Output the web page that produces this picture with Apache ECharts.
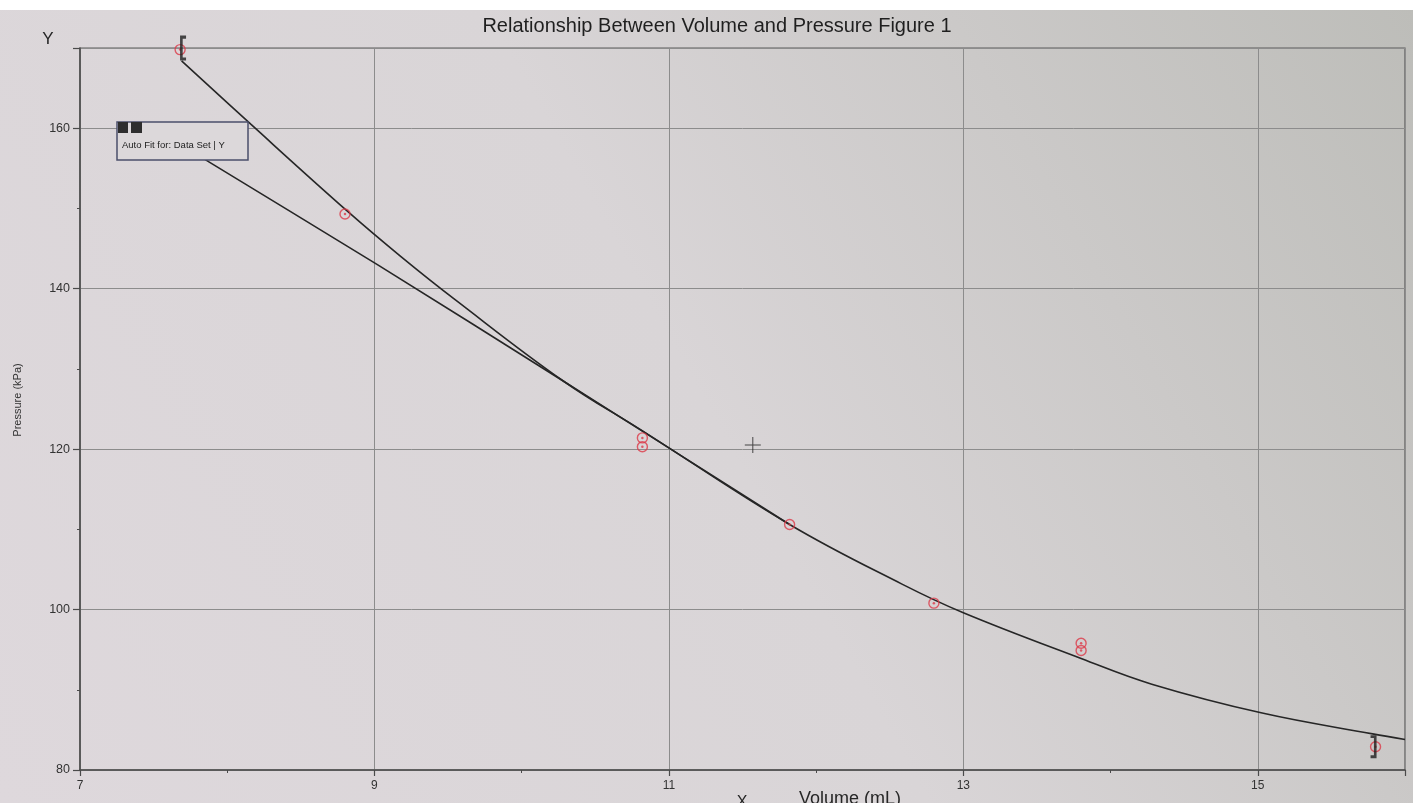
<!DOCTYPE html>
<html><head><meta charset="utf-8">
<script src="https://cdn.jsdelivr.net/npm/echarts@6/dist/echarts.min.js"></script>
<style>html,body{margin:0;padding:0;background:#fff}#c{width:1413px;height:803px}</style>
</head><body><div id="c"></div>
<script>
// Measured data (Volume mL, Pressure kPa)
const volume   = [7.68, 8.80, 10.82, 10.82, 11.82, 12.80, 13.80, 13.80, 15.80];
const pressure = [169.8, 149.3, 121.4, 120.3, 110.6, 100.8, 95.8, 94.9, 82.9];

// Auto-fit curve
const fitAVolume   = [7.69, 8.16, 8.82, 9.18, 9.55, 10.29, 10.81, 11.82, 12.58, 13.00, 13.80, 14.28, 15.03, 15.78, 16.00];
const fitAPressure = [168.4, 160.5, 149.6, 144.0, 138.6, 128.4, 122.4, 110.6, 103.2, 99.6, 93.9, 90.7, 87.1, 84.5, 83.8];

// Second fit line
const fitBVolume   = [7.75, 9.02, 10.29, 11.82];
const fitBPressure = [157.2, 143.0, 128.4, 110.6];

// Range brackets and cursor
const bracketStart = [7.70, 170];
const bracketEnd   = [15.80, 82.9];
const cursorPoint  = [11.57, 120.5];

const xTickLabels = ['7', '9', '11', '13', '15'];
const yTickLabels = ['80', '100', '120', '140', '160'];

const zip = (a, b) => a.map((v, i) => [v, b[i]]);
const FONT = '"Liberation Sans", Arial, sans-serif';
const RED = '#dc3a48';
const INK = '#262626';

const chart = echarts.init(document.getElementById('c'), null, {renderer: 'canvas'});
chart.setOption({
  backgroundColor: '#ffffff',
  animation: false,
  graphic: [
    {type: 'rect', z: -10, silent: true, shape: {x: 0, y: 10, width: 1413, height: 793},
     style: {fill: new echarts.graphic.LinearGradient(0, 1, 1, 0, [
       {offset: 0, color: '#ded8dc'}, {offset: 0.5, color: '#d9d5d7'}, {offset: 1, color: '#bdbdb9'}])}},
    {type: 'text', x: 717, y: 26, z: 10, style: {text: 'Relationship Between Volume and Pressure Figure 1',
      font: '20px ' + FONT, fill: '#1f1f1f', textAlign: 'center', textVerticalAlign: 'middle'}},
    {type: 'text', x: 48, y: 39, z: 10, style: {text: 'Y', font: '17px ' + FONT, fill: INK, textAlign: 'center', textVerticalAlign: 'middle'}},
    {type: 'text', x: 18, y: 400, rotation: Math.PI / 2, z: 10, style: {text: 'Pressure (kPa)', font: '11px ' + FONT, fill: '#333', textAlign: 'center', textVerticalAlign: 'middle'}},
    {type: 'text', x: 742, y: 803, z: 10, style: {text: 'X', font: '16px ' + FONT, fill: INK, textAlign: 'center', textVerticalAlign: 'middle'}},
    {type: 'text', x: 850, y: 799, z: 10, style: {text: 'Volume (mL)', font: '18px ' + FONT, fill: INK, textAlign: 'center', textVerticalAlign: 'middle'}},
    // Auto Fit box
    {type: 'rect', z: 20, shape: {x: 117, y: 122, width: 131, height: 38},
     style: {fill: '#dcd8da', stroke: '#4b4f6b', lineWidth: 1.5}},
    {type: 'rect', z: 21, shape: {x: 118, y: 122, width: 10, height: 11}, style: {fill: '#2e2e2e'}},
    {type: 'rect', z: 21, shape: {x: 131, y: 122, width: 11, height: 11}, style: {fill: '#2e2e2e'}},
    {type: 'text', x: 122, y: 145, z: 21, style: {text: 'Auto Fit for: Data Set | Y', font: '9.5px ' + FONT, fill: '#222', textVerticalAlign: 'middle'}}
  ],
  grid: {left: 80, right: 8, top: 48, bottom: 33, show: true, borderColor: '#5a5a5a', borderWidth: 1.2, backgroundColor: 'transparent'},
  xAxis: {
    type: 'value', min: 7, max: 16, interval: 2,
    axisLine: {lineStyle: {color: '#4a4a4a', width: 1.5}},
    axisTick: {length: 6, lineStyle: {color: '#4a4a4a', width: 1.2}},
    minorTick: {show: true, splitNumber: 2, length: 3, lineStyle: {color: '#4a4a4a'}},
    splitLine: {show: true, lineStyle: {color: '#8c8c8c', width: 1}},
    axisLabel: {fontFamily: FONT, fontSize: 12, color: '#333', margin: 10, showMaxLabel: false,
      formatter: v => xTickLabels.includes(String(v)) ? String(v) : ''}
  },
  yAxis: {
    type: 'value', min: 80, max: 170, interval: 20,
    axisLine: {show: true, lineStyle: {color: '#4a4a4a', width: 1.5}},
    axisTick: {show: true, length: 7, lineStyle: {color: '#4a4a4a', width: 1.2}},
    minorTick: {show: true, splitNumber: 2, length: 3, lineStyle: {color: '#4a4a4a'}},
    splitLine: {show: true, lineStyle: {color: '#8c8c8c', width: 1}},
    axisLabel: {fontFamily: FONT, fontSize: 12.5, color: '#333', margin: 10, showMaxLabel: false,
      formatter: v => yTickLabels.includes(String(v)) ? String(v) : ''}
  },
  series: [
    {type: 'line', data: zip(fitBVolume, fitBPressure), showSymbol: false, smooth: 0.2, z: 3,
     lineStyle: {color: INK, width: 1.6}},
    {type: 'line', data: zip(fitAVolume, fitAPressure), showSymbol: false, smooth: 0.4, z: 3,
     lineStyle: {color: INK, width: 1.6}},
    {type: 'scatter', data: zip(volume, pressure), symbol: 'circle', symbolSize: 10, z: 4,
     itemStyle: {color: 'rgba(0,0,0,0)', borderColor: RED, borderWidth: 1.4}},
    {type: 'scatter', data: zip(volume, pressure), symbol: 'circle', symbolSize: 2.5, z: 4,
     itemStyle: {color: RED}},
    {type: 'scatter', data: [bracketStart], clip: false, z: 5,
     symbol: 'path://M0 0 L8 0 L8 3 L3.5 3 L3.5 21 L8 21 L8 24 L0 24 Z',
     symbolSize: [6, 25], symbolKeepAspect: false, itemStyle: {color: '#1e1e1e'}},
    {type: 'scatter', data: [bracketEnd], clip: false, z: 5,
     symbol: 'path://M0 0 L8 0 L8 24 L0 24 L0 21 L4.5 21 L4.5 3 L0 3 Z',
     symbolSize: [6, 23], symbolOffset: [-2, 0], symbolKeepAspect: false, itemStyle: {color: '#1e1e1e'}},
    {type: 'scatter', data: [cursorPoint], z: 5, symbol: 'path://M7.5 0 L8.5 0 L8.5 7.5 L16 7.5 L16 8.5 L8.5 8.5 L8.5 16 L7.5 16 L7.5 8.5 L0 8.5 L0 7.5 L7.5 7.5 Z',
     symbolSize: 16, itemStyle: {color: '#222'}}
  ]
});
</script></body></html>
